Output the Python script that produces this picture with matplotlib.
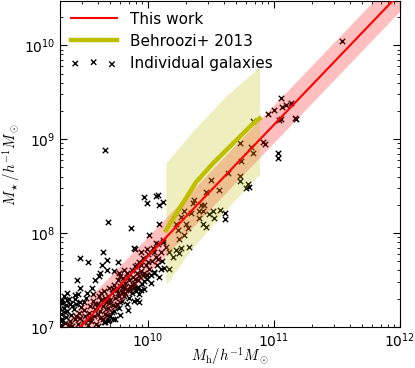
import numpy as np
import matplotlib
matplotlib.use('Agg')
import matplotlib.pyplot as plt

plt.rcParams['mathtext.fontset'] = 'cm'
plt.rcParams['font.family'] = ['DejaVu Sans']

# "This work" relation: log M* = ly0 + slope * (log Mh - lx0), scatter band +/- 0.2 dex
fit_lx0 = 9.461
fit_ly0 = 7.0
fit_slope = 1.40
fit_sigma = 0.2
fit_lmh = np.array([9.30, 12.0])

# Behroozi+ 2013 (log Mh, log M*) and band edges
beh_lmh = [10.141, 10.381, 10.517, 10.645, 10.757, 10.845, 10.885]
beh_lms = [8.03, 8.543, 8.745, 8.915, 9.064, 9.18, 9.22]
beh_up_lmh = [10.141, 10.30, 10.50, 10.70, 10.885]
beh_up_lms = [8.745, 9.00, 9.31, 9.56, 9.77]
beh_lo_lmh = [10.141, 10.34, 10.60, 10.837, 10.885]
beh_lo_lms = [7.447, 7.82, 8.22, 8.564, 8.617]

# individual galaxies (log Mh, log M*)
gal = [
    (11.541, 10.04), (11.055, 9.44), (10.949, 9.27), (11.003, 9.31), (11.061, 9.34),
    (11.093, 9.36), (11.135, 9.39), (11.053, 9.21), (11.039, 9.20), (11.167, 9.23),
    (11.173, 9.21), (10.835, 9.19), (10.727, 8.96), (10.821, 8.92), (10.835, 8.85),
    (10.915, 8.97), (10.927, 8.95), (11.029, 8.85), (11.029, 8.80), (10.741, 8.77),
    (10.635, 8.64), (10.727, 8.61), (10.727, 8.55), (10.501, 8.57), (10.795, 8.52),
    (10.781, 8.48), (10.805, 8.49), (10.563, 8.46), (10.461, 8.44), (10.447, 8.30),
    (10.421, 8.30), (10.407, 8.24), (10.439, 8.23), (10.487, 8.20), (10.519, 8.24),
    (10.527, 8.16), (10.573, 8.25), (10.607, 8.21), (10.607, 8.15), (10.435, 8.10),
    (10.461, 8.07), (10.407, 8.16), (10.075, 8.41), (9.967, 8.38), (9.995, 8.32),
    (10.087, 8.30), (10.115, 8.33), (10.061, 8.40), (9.861, 8.05), (10.087, 8.10),
    (10.007, 7.98), (9.887, 7.84), (9.941, 7.80), (9.995, 7.83), (10.061, 7.89),
    (10.115, 7.91), (10.167, 7.80), (10.221, 7.82), (10.327, 7.85), (10.261, 7.84),
    (10.221, 8.10), (10.235, 8.03), (10.247, 7.94), (10.287, 7.98), (10.315, 8.05),
    (10.301, 8.10), (10.341, 8.21), (10.355, 8.32), (10.367, 8.35), (10.287, 8.24),
    (10.261, 8.17), (9.679, 8.12), (9.461, 7.73), (9.527, 7.69), (9.643, 7.80),
    (9.675, 7.71), (9.759, 7.69), (9.893, 7.83), (9.435, 7.50), (9.461, 7.41),
    (9.607, 7.54), (9.621, 7.57), (9.581, 7.50), (9.675, 7.61), (9.781, 7.54),
    (9.887, 7.41), (9.941, 7.39), (9.915, 7.29), (9.741, 7.08), (9.679, 7.06),
    (9.981, 7.55), (10.047, 7.59), (10.101, 7.62), (9.915, 7.66), (9.927, 7.54),
    (10.247, 7.79), (10.167, 7.62), (9.727, 7.60), (9.767, 7.57), (9.807, 7.61),
    (9.515, 7.36), (9.555, 7.41), (9.421, 7.34), (9.355, 7.29), (9.315, 7.29),
    (9.381, 7.25), (9.687, 7.07), (9.675, 7.13), (9.635, 7.66), (10.195, 7.75),
    (9.995, 7.55), (9.967, 7.49), (9.927, 7.27), (9.901, 7.38), (9.661, 8.88),
    # dense low-mass clump
    (9.31, 7.02), (9.32, 7.08), (9.31, 7.14), (9.33, 7.20), (9.32, 7.26),
    (9.34, 7.04), (9.35, 7.11), (9.36, 7.17), (9.35, 7.23), (9.37, 7.30),
    (9.38, 7.06), (9.39, 7.13), (9.40, 7.01), (9.41, 7.19), (9.42, 7.09),
    (9.43, 7.24), (9.44, 7.03), (9.45, 7.15), (9.46, 7.10), (9.47, 7.21),
    (9.48, 7.05), (9.49, 7.27), (9.50, 7.12), (9.33, 7.33), (9.36, 7.36),
    (9.30, 7.19), (9.38, 7.25), (9.42, 7.30), (9.44, 7.35), (9.52, 7.07),
    (9.52, 7.02), (9.53, 7.15), (9.54, 7.22), (9.55, 7.06), (9.56, 7.28),
    (9.57, 7.12), (9.58, 7.19), (9.59, 7.03), (9.60, 7.25), (9.61, 7.33),
    (9.62, 7.10), (9.62, 7.17), (9.63, 7.29), (9.64, 7.22), (9.65, 7.05),
    (9.65, 7.38), (9.66, 7.14), (9.67, 7.27), (9.68, 7.33), (9.68, 7.20),
    (9.69, 7.42), (9.70, 7.12), (9.70, 7.29), (9.71, 7.36), (9.72, 7.23),
    (9.73, 7.45), (9.73, 7.17), (9.74, 7.31), (9.75, 7.39), (9.75, 7.25),
    (9.76, 7.50), (9.77, 7.33), (9.77, 7.20), (9.78, 7.44), (9.79, 7.37),
    (9.79, 7.28), (9.80, 7.52), (9.81, 7.41), (9.81, 7.33), (9.82, 7.47),
    (9.83, 7.24), (9.83, 7.58), (9.84, 7.39), (9.85, 7.50), (9.85, 7.31),
    (9.86, 7.44), (9.87, 7.61), (9.87, 7.36), (9.88, 7.53), (9.89, 7.47),
    (9.89, 7.28), (9.90, 7.65), (9.91, 7.41), (9.91, 7.57), (9.92, 7.50),
    (9.93, 7.35), (9.93, 7.69), (9.94, 7.60), (9.95, 7.46), (9.96, 7.74),
    (9.96, 7.55), (9.97, 7.40), (9.98, 7.66), (9.99, 7.51), (10.00, 7.78),
    (10.01, 7.62), (10.02, 7.47), (10.03, 7.70), (10.04, 7.84), (10.05, 7.57),
    (10.06, 7.75), (10.07, 7.66), (10.08, 7.88), (10.09, 7.53), (10.10, 7.80),
    (10.11, 7.70), (10.12, 7.93), (10.13, 7.63), (10.14, 7.85),
    (9.60, 7.01), (9.66, 7.05), (9.72, 7.09), (9.78, 7.13), (9.84, 7.18),
    (9.31, 7.06), (9.34, 7.16), (9.37, 7.02), (9.40, 7.22), (9.43, 7.12),
    (9.46, 7.27), (9.49, 7.18), (9.51, 7.31), (9.54, 7.10), (9.56, 7.35),
    (9.58, 7.24), (9.60, 7.14), (9.63, 7.36), (9.64, 7.08), (9.66, 7.31),
    (9.67, 7.19), (9.69, 7.26), (9.71, 7.16), (9.72, 7.40), (9.74, 7.22),
    (9.76, 7.36), (9.78, 7.27), (9.80, 7.43), (9.82, 7.36), (9.84, 7.53),
    (9.86, 7.39), (9.88, 7.45), (9.90, 7.51), (9.92, 7.43), (9.94, 7.66),
    (9.97, 7.58), (10.00, 7.69), (10.02, 7.55), (10.05, 7.80), (10.08, 7.72),
]

gal = np.array(gal)
gal_mh = 10 ** gal[:, 0]
gal_ms = 10 ** gal[:, 1]

fig = plt.figure(figsize=(4.15, 3.68), dpi=100)
ax = fig.add_axes([0.1446, 0.1114, 0.8193, 0.8856])

sc = ax.scatter(gal_mh, gal_ms, marker='x', c='k', s=15, linewidths=1.0, zorder=1)

fit_ms = fit_ly0 + fit_slope * (fit_lmh - fit_lx0)
ax.fill_between(10 ** fit_lmh, 10 ** (fit_ms - fit_sigma), 10 ** (fit_ms + fit_sigma),
                color='r', alpha=0.25, lw=0, zorder=2)

up = np.interp(beh_lo_lmh, beh_up_lmh, beh_up_lms)
ax.fill_between(10 ** np.array(beh_lo_lmh), 10 ** np.array(beh_lo_lms), 10 ** up,
                color='y', alpha=0.25, lw=0, zorder=2)

l1, = ax.plot(10 ** fit_lmh, 10 ** fit_ms, color='r', lw=1.5, zorder=3)
l2, = ax.plot(10 ** np.array(beh_lmh), 10 ** np.array(beh_lms), color='y', lw=3.2, zorder=3)

ax.set_xscale('log')
ax.set_yscale('log')
ax.set_xlim(2e9, 1e12)
ax.set_ylim(1e7, 2.95e10)

ax.tick_params(which='both', direction='in', top=True, right=True, labelsize=10)
ax.tick_params(which='major', length=5)
ax.tick_params(which='minor', length=2.5)
ax.tick_params(axis='x', which='major', pad=3)

ax.set_xlabel(r'$M_{\rm h}/h^{-1}M_\odot$', fontsize=10.5, labelpad=-3)
ax.set_ylabel(r'$M_\star/h^{-1}M_\odot$', fontsize=10.5, labelpad=1)

ax.legend([l1, l2, sc], ['This work', 'Behroozi+ 2013', 'Individual galaxies'],
          loc='upper left', frameon=False, fontsize=11, scatterpoints=3,
          handlelength=3.0, handletextpad=0.9, labelspacing=0.45,
          borderaxespad=0.3)

fig.savefig('out.png', dpi=100)
